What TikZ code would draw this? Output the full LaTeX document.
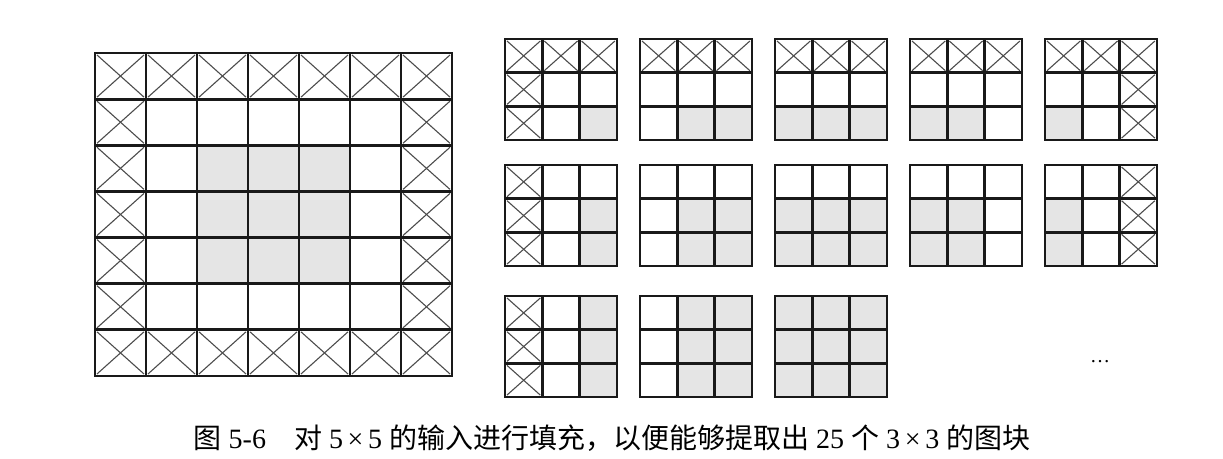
\documentclass[tikz,border=0pt]{standalone}
\usepackage{fontspec}
\setmainfont{Liberation Serif}
\newfontfamily\cjk{Noto Sans CJK SC}

% one cell of the padded 7x7 input: x, y, width, height, row, column
\newcommand{\padcell}[6]{%
  \pgfmathtruncatemacro{\ispad}{(#5==0)||(#5==6)||(#6==0)||(#6==6)}%
  \pgfmathtruncatemacro{\iscore}{(#5>1)&&(#5<5)&&(#6>1)&&(#6<5)}%
  \ifnum\iscore=1 \fill[coreshade] (#1,#2) rectangle ++(#3,#4);\fi
  \ifnum\ispad=1
    \draw[crossline] (#1+2,#2+2) -- ++(#3-4,#4-4);
    \draw[crossline] (#1+#3-2,#2+2) -- ++(-#3+4,#4-4);
  \fi
  \draw[cellbox] (#1,#2) rectangle ++(#3,#4);
}

\begin{document}
\begin{tikzpicture}[x=0.5pt,y=-0.5pt,
  cellbox/.style={draw=black!90, line width=1.4pt},
  coreshade/.style={fill=black!10},
  crossline/.style={draw=black!70, line width=0.55pt}]
\useasboundingbox (0,0) rectangle (1223,459);

% padded input
\foreach \r in {0,...,6} {
  \foreach \c in {0,...,6} {
    \padcell{95+51*\c}{53+46.14*\r}{51}{46.14}{\r}{\c}
  }
}

% 3x3 patches
\foreach \i/\py in {0/39,1/165,2/296} {
  \foreach \j in {0,...,4} {
    \pgfmathtruncatemacro{\skip}{(\i==2)&&(\j>2)}
    \ifnum\skip=0
      \foreach \a in {0,1,2} {
        \foreach \b in {0,1,2} {
          \pgfmathtruncatemacro{\pr}{\i+\a}
          \pgfmathtruncatemacro{\pc}{\j+\b}
          \padcell{505+135*\j+37.3*\b}{\py+33.7*\a}{37.3}{33.7}{\pr}{\pc}
        }
      }
    \fi
  }
}

\node (more) at (1100,362) {\dots};

\node (caption) at (612,438) {\fontsize{14pt}{16pt}\selectfont
  {\cjk 图} 5-6\hspace{1em}{\cjk 对} 5\,×\,5 {\cjk 的输入进行填充，以便能够提取出} 25 {\cjk 个} 3\,×\,3 {\cjk 的图块}};
\end{tikzpicture}
\end{document}
